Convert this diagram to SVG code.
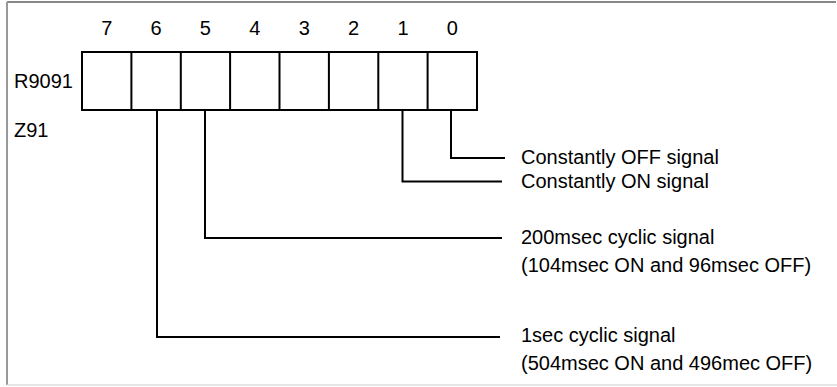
<svg xmlns="http://www.w3.org/2000/svg" width="837" height="387" viewBox="0 0 837 387">
<style>
text{font-family:"Liberation Sans",Arial,sans-serif;font-size:20px;fill:#000}
.num{text-anchor:middle}
.ln{fill:none;stroke:#000;stroke-width:2}
</style>
<rect width="837" height="387" fill="#fff"/>
<g id="frame">
<line x1="7" y1="2" x2="836" y2="2" stroke="#888" stroke-width="2"/>
<line x1="7" y1="2" x2="7" y2="385" stroke="#999" stroke-width="2"/>
<line x1="7" y1="385" x2="837" y2="385" stroke="#ddd" stroke-width="1.5"/>
</g>
<g id="register">
<rect x="82" y="52" width="395" height="58" class="ln"/>
<path class="ln" d="M131.4 52V110M180.8 52V110M230.1 52V110M279.5 52V110M328.9 52V110M378.3 52V110M427.6 52V110"/>
<text class="num" x="106.7" y="35">7</text>
<text class="num" x="156.1" y="35">6</text>
<text class="num" x="205.4" y="35">5</text>
<text class="num" x="254.8" y="35">4</text>
<text class="num" x="304.2" y="35">3</text>
<text class="num" x="353.6" y="35">2</text>
<text class="num" x="403" y="35">1</text>
<text class="num" x="452.3" y="35">0</text>
<text x="14" y="88">R9091</text>
<text x="14" y="137">Z91</text>
</g>
<g id="connectors">
<polyline class="ln" points="451,110 451,158 505,158"/>
<polyline class="ln" points="402.5,110 402.5,181.5 502,181.5"/>
<polyline class="ln" points="205,110 205,238 502,238"/>
<polyline class="ln" points="157,110 157,337 500,337"/>
</g>
<g id="label-bit0"><text x="521" y="164">Constantly OFF signal</text></g>
<g id="label-bit1"><text x="521" y="188">Constantly ON signal</text></g>
<g id="label-bit5">
<text x="521" y="244">200msec cyclic signal</text>
<text x="521" y="272">(104msec ON and 96msec OFF)</text>
</g>
<g id="label-bit6">
<text x="521" y="342">1sec cyclic signal</text>
<text x="521" y="370">(504msec ON and 496mec OFF)</text>
</g>
</svg>
